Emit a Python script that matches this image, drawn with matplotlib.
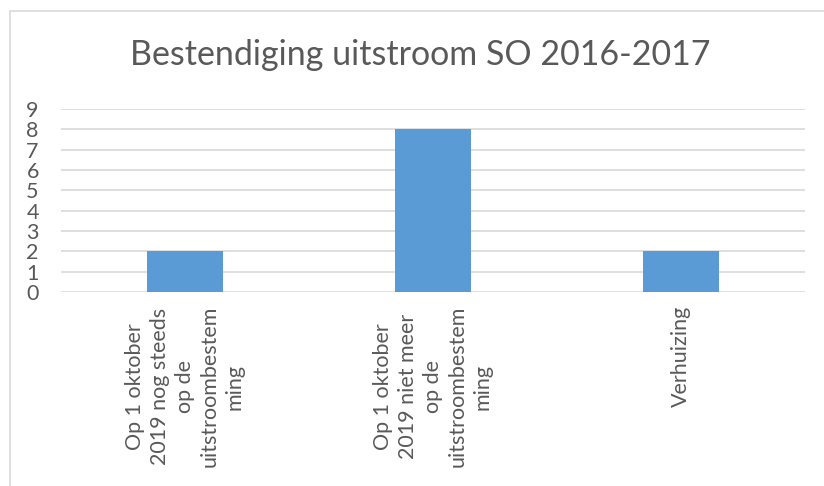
import matplotlib
matplotlib.use('Agg')
import matplotlib.pyplot as plt
from matplotlib.patches import Rectangle
import numpy as np

plt.rcParams['font.family'] = ['Lato', 'DejaVu Sans']

categories = ['Op 1 oktober\n2019 nog steeds\nop de\nuitstroombestem\nming',
              'Op 1 oktober\n2019 niet meer\nop de\nuitstroombestem\nming',
              'Verhuizing']
values = [2, 8, 2]
y_ticks = list(range(0, 10))

text_color = '#595959'
grid_color = '#D9D9D9'
bar_color = '#5B9BD5'

fig = plt.figure(figsize=(8.24, 4.86), dpi=100, facecolor='white')
ax = fig.add_axes([61 / 824, 1 - 292 / 486, 744 / 824, 183 / 486])

x = np.arange(len(categories))
ax.bar(x, values, width=0.31, color=bar_color, zorder=3)

ax.set_xlim(-0.5, len(categories) - 0.5)
ax.set_ylim(0, 9)
ax.set_yticks(y_ticks)
ax.set_yticklabels([str(t) for t in y_ticks], fontsize=15.5, color=text_color)
ax.set_xticks(x)
ax.set_xticklabels(categories, rotation=90, fontsize=15.5, color=text_color,
                   ha='center', va='top', multialignment='center', linespacing=1.3)
ax.tick_params(axis='both', length=0)
ax.tick_params(axis='y', pad=16)
ax.tick_params(axis='x', pad=10)
ax.grid(axis='y', color=grid_color, linewidth=1.2, zorder=0)
for s in ax.spines.values():
    s.set_visible(False)

fig.text(0.51, 1 - 55 / 486, 'Bestendiging uitstroom SO 2016-2017',
         ha='center', va='center', fontsize=24.5, color=text_color)

# chart border (only left and top visible in crop)
fig.patches.append(Rectangle((9.5 / 824, -0.1), 1.0, 1 - 10.5 / 486 + 0.1,
                             transform=fig.transFigure, fill=False,
                             edgecolor=grid_color, linewidth=1.2))

fig.savefig('out.png', dpi=100)
